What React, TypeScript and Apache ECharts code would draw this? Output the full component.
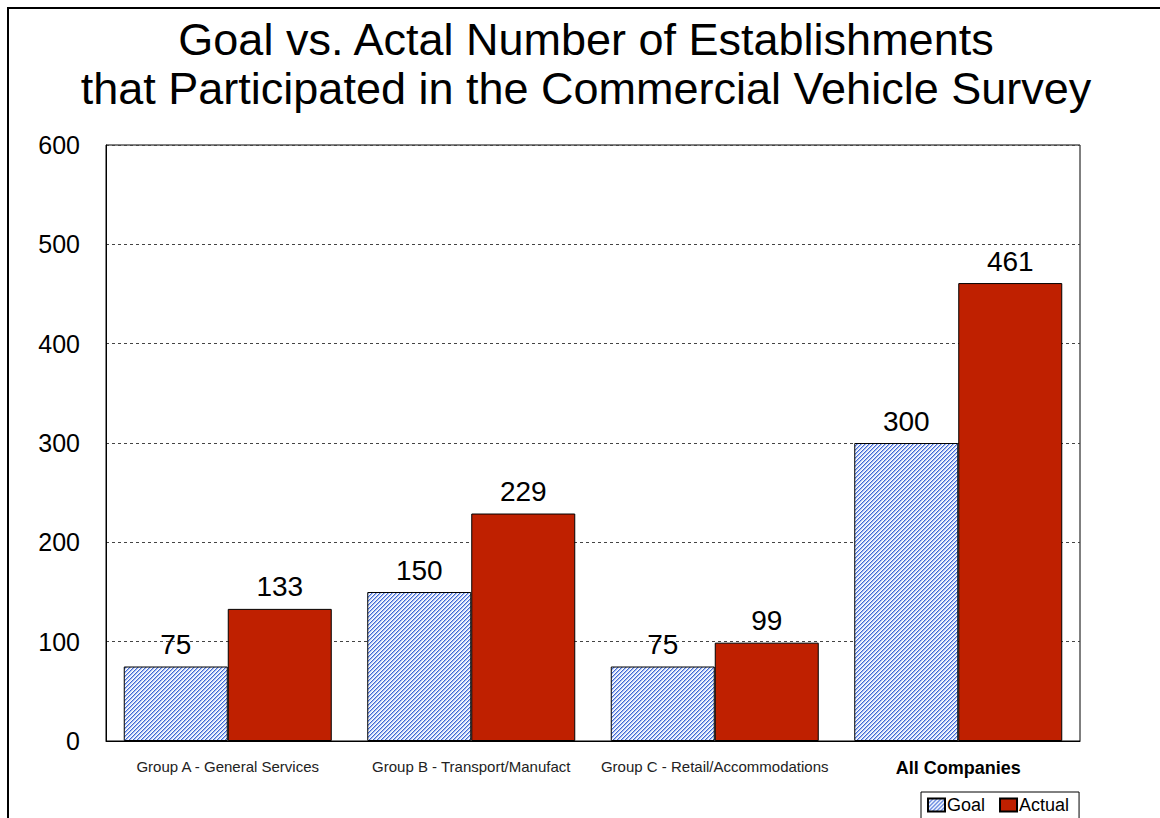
import React, { useEffect, useRef } from "react";
import * as echarts from "echarts";

const categories = [
  "Group A - General Services",
  "Group B - Transport/Manufact",
  "Group C - Retail/Accommodations",
  "All Companies",
];
const goalValues = [75, 150, 75, 300];
const actualValues = [133, 229, 99, 461];
const titleLines = [
  "Goal vs. Actal Number of Establishments",
  "that Participated in the Commercial Vehicle Survey",
];

const FONT = "'Liberation Sans', Arial, Helvetica, sans-serif";

function makeHatch(): string {
  const c = document.createElement("canvas");
  c.width = 4;
  c.height = 4;
  const ctx = c.getContext("2d")!;
  const cols = ["#4068d4", "#a2b9ef", "#e2e9fb", "#ffffff"];
  for (let x = 0; x < 4; x++) {
    for (let y = 0; y < 4; y++) {
      ctx.fillStyle = cols[(x + y) % 4];
      ctx.fillRect(x, y, 1, 1);
    }
  }
  return c.toDataURL();
}

export default function App() {
  const ref = useRef<HTMLDivElement>(null);
  useEffect(() => {
    document.body.style.margin = "0";
    document.body.style.overflow = "hidden";
    const chart = echarts.init(ref.current!, null, { renderer: "svg" });
    const hatch = {
      image: makeHatch(),
      repeat: "repeat",
      imageWidth: 4,
      imageHeight: 4,
    };
    chart.setOption({
      animation: false,
      backgroundColor: "#ffffff",
      textStyle: { fontFamily: FONT },
      graphic: [
        {
          type: "polyline",
          shape: { points: [[8, 830], [8, 8], [1170, 8]] },
          style: { stroke: "#000", lineWidth: 2, fill: null },
          silent: true,
        },
        {
          type: "text",
          style: {
            text: titleLines.join("\n"),
            x: 586,
            y: 15,
            align: "center",
            verticalAlign: "top",
            fontSize: 45,
            lineHeight: 49,
            fontFamily: FONT,
            fill: "#000",
          },
        },
      ],
      legend: {
        left: 921,
        top: 792,
        orient: "horizontal",
        borderColor: "#000",
        borderWidth: 1,
        backgroundColor: "#fff",
        borderRadius: 0,
        padding: [4, 10, 8, 6],
        itemWidth: 17,
        itemHeight: 13,
        itemGap: 14,
        icon: "rect",
        textStyle: { fontSize: 18, color: "#000", fontFamily: FONT, padding: [0, 0, 0, -3] },
        data: ["Goal", "Actual"],
      },
      grid: {
        left: 106,
        top: 145,
        right: 80,
        bottom: 77,
        show: true,
        borderColor: "#000",
        borderWidth: 1,
        backgroundColor: "transparent",
      },
      xAxis: {
        type: "category",
        data: categories,
        axisLine: { show: true, lineStyle: { color: "#000", width: 1 } },
        axisTick: { show: false },
        axisLabel: {
          margin: 18,
          interval: 0,
          formatter: (v: string) => (v === "All Companies" ? `{b|${v}}` : `{n|${v}}`),
          rich: {
            n: { fontSize: 15, color: "#222", fontFamily: FONT },
            b: { fontSize: 18, color: "#000", fontWeight: "bold", fontFamily: FONT },
          },
        },
      },
      yAxis: {
        type: "value",
        min: 0,
        max: 600,
        interval: 100,
        axisLine: { show: true, lineStyle: { color: "#000" } },
        axisTick: { show: false },
        axisLabel: { fontSize: 25, color: "#000", margin: 26, fontFamily: FONT },
        splitLine: { show: true, lineStyle: { color: "#444", type: [3, 3], width: 1 } },
      },
      series: [
        {
          name: "Goal",
          type: "bar",
          data: goalValues,
          barWidth: 104,
          barGap: "0%",
          itemStyle: { color: hatch, borderColor: "#000", borderWidth: 1 },
          label: { show: true, position: "top", distance: 8, fontSize: 28, color: "#000", fontFamily: FONT },
        },
        {
          name: "Actual",
          type: "bar",
          data: actualValues,
          barWidth: 104,
          barGap: "0%",
          itemStyle: { color: "#bf2000", borderColor: "#000", borderWidth: 1 },
          label: { show: true, position: "top", distance: 8, fontSize: 28, color: "#000", fontFamily: FONT },
        },
      ],
    });
    return () => chart.dispose();
  }, []);
  return <div ref={ref} style={{ width: 1160, height: 818 }} />;
}
